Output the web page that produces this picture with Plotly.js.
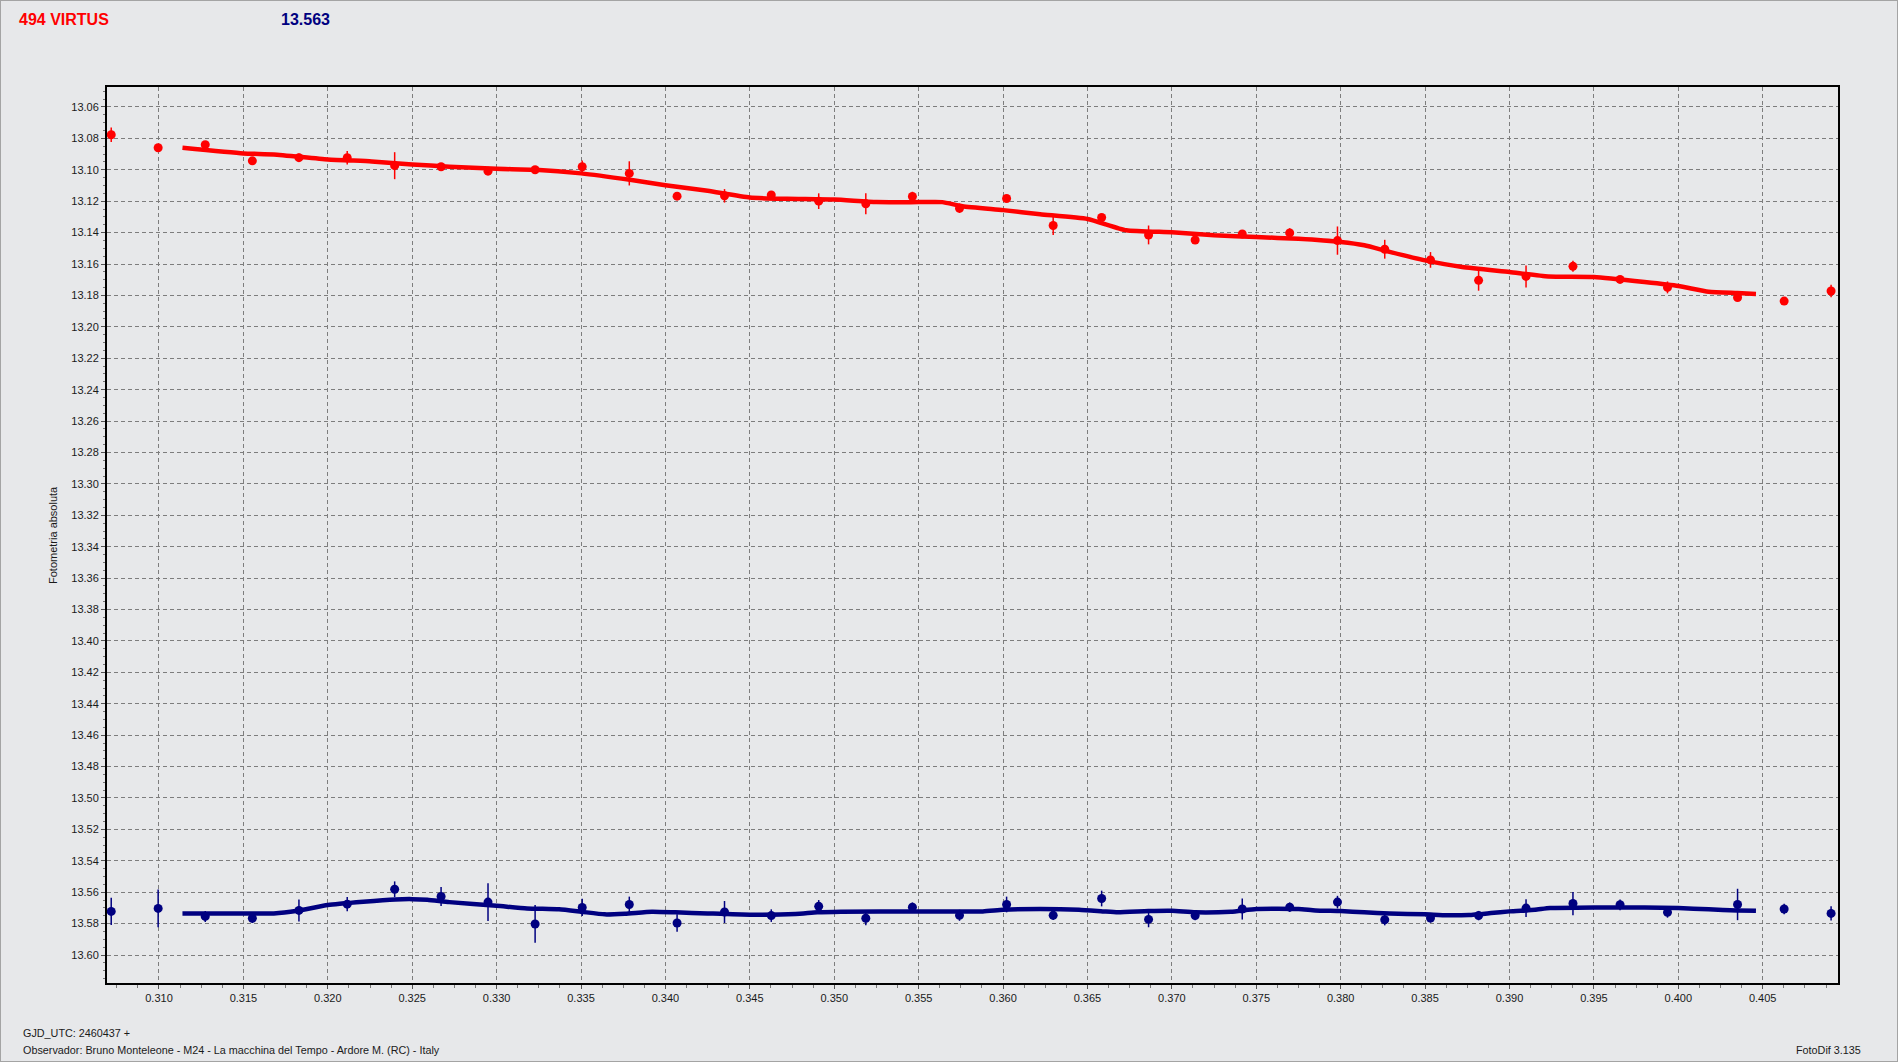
<!DOCTYPE html>
<html>
<head>
<meta charset="utf-8">
<script src="https://cdn.plot.ly/plotly-3.0.1.min.js"></script>
<style>
  html, body { margin: 0; padding: 0; background: #e7e8ea; }
  #wrap { position: relative; width: 1898px; height: 1062px; }
  #chart { width: 1898px; height: 1062px; }
  #frame { position: absolute; left: 0; top: 0; width: 1898px; height: 1062px; box-sizing: border-box; border: 1px solid #a4a4a4; pointer-events: none; }
</style>
</head>
<body>
<div id="wrap"><div id="chart"></div><div id="frame"></div></div>
<script>
// Phase (GJD_UTC - 2460437)
const phase = [0.30717, 0.30995, 0.31274, 0.31553, 0.31829, 0.32115, 0.32396, 0.32671, 0.32949, 0.33228,
  0.33507, 0.33786, 0.34069, 0.34350, 0.34627, 0.34908, 0.35187, 0.35463, 0.35742, 0.36021,
  0.36297, 0.36584, 0.36862, 0.37138, 0.37417, 0.37698, 0.37981, 0.38261, 0.38532, 0.38817,
  0.39098, 0.39376, 0.39655, 0.39936, 0.40351, 0.40627, 0.40905];

// 494 Virtus magnitudes
const virtusMag = [13.0777, 13.0860, 13.0840, 13.0943, 13.0923, 13.0923, 13.0974, 13.0981, 13.1009, 13.1000,
  13.0981, 13.1023, 13.1168, 13.1166, 13.1160, 13.1200, 13.1217, 13.1170, 13.1245, 13.1183,
  13.1355, 13.1304, 13.1415, 13.1447, 13.1409, 13.1402, 13.1451, 13.1506, 13.1574, 13.1704,
  13.1679, 13.1615, 13.1698, 13.1749, 13.1813, 13.1836, 13.1772];
const virtusErr = [0.0046, 0.0010, 0.0020, 0.0012, 0.0027, 0.0043, 0.0086, 0.0020, 0.0010, 0.0010,
  0.0040, 0.0077, 0.0012, 0.0043, 0.0015, 0.0050, 0.0067, 0.0030, 0.0030, 0.0012,
  0.0060, 0.0012, 0.0060, 0.0015, 0.0012, 0.0030, 0.0090, 0.0060, 0.0050, 0.0066,
  0.0070, 0.0035, 0.0020, 0.0038, 0.0020, 0.0010, 0.0040];

// Comparison star magnitudes
const compMag = [13.5722, 13.5703, 13.5754, 13.5766, 13.5716, 13.5676, 13.5581, 13.5627, 13.5663, 13.5802,
  13.5697, 13.5678, 13.5796, 13.5726, 13.5749, 13.5690, 13.5766, 13.5695, 13.5747, 13.5678,
  13.5747, 13.5640, 13.5773, 13.5749, 13.5707, 13.5695, 13.5663, 13.5775, 13.5764, 13.5749,
  13.5701, 13.5672, 13.5680, 13.5728, 13.5678, 13.5707, 13.5735];
const compErr = [0.0087, 0.0120, 0.0035, 0.0030, 0.0070, 0.0045, 0.0050, 0.0060, 0.0120, 0.0120,
  0.0055, 0.0050, 0.0056, 0.0070, 0.0040, 0.0040, 0.0045, 0.0030, 0.0035, 0.0050,
  0.0030, 0.0050, 0.0050, 0.0030, 0.0067, 0.0030, 0.0040, 0.0036, 0.0030, 0.0030,
  0.0057, 0.0074, 0.0034, 0.0034, 0.0100, 0.0034, 0.0045];

// Smoothed curves
const virtusFitX = [0.31139, 0.3150, 0.3168, 0.3200, 0.3226, 0.3250, 0.3272, 0.3300, 0.3323, 0.3350,
  0.3379, 0.3400, 0.3425, 0.3450, 0.3472, 0.3500, 0.3525, 0.3550, 0.3564, 0.3576,
  0.3600, 0.3622, 0.3650, 0.3673, 0.3700, 0.3725, 0.3750, 0.3775, 0.3800, 0.3814,
  0.3829, 0.3850, 0.3872, 0.3900, 0.3923, 0.3950, 0.3980, 0.4000, 0.4018, 0.4035, 0.4046];
const virtusFitY = [13.0860, 13.0896, 13.0902, 13.0934, 13.0947, 13.0966, 13.0980, 13.0994, 13.1000, 13.1023,
  13.1064, 13.1098, 13.1134, 13.1177, 13.1185, 13.1190, 13.1206, 13.1206, 13.1206, 13.1232,
  13.1257, 13.1283, 13.1313, 13.1385, 13.1398, 13.1417, 13.1428, 13.1440, 13.1460, 13.1481,
  13.1523, 13.1577, 13.1619, 13.1651, 13.1679, 13.1683, 13.1715, 13.1740, 13.1777, 13.1785, 13.1791];

const compFitX = [0.31139, 0.3150, 0.3168, 0.3182, 0.3200, 0.3221, 0.3240, 0.3250, 0.3259, 0.3272,
  0.3300, 0.3318, 0.3337, 0.3350, 0.3364, 0.3376, 0.3392, 0.3406, 0.3425, 0.3450,
  0.3477, 0.3490, 0.3504, 0.3550, 0.3588, 0.3600, 0.3622, 0.3645, 0.3659, 0.3668,
  0.3686, 0.3700, 0.3714, 0.3735, 0.3750, 0.3775, 0.3785, 0.3800, 0.3814, 0.3829,
  0.3850, 0.3863, 0.3876, 0.3889, 0.3900, 0.3915, 0.3924, 0.3950, 0.3980, 0.4000,
  0.4018, 0.4035, 0.4046];
const compFitY = [13.5735, 13.5735, 13.5735, 13.5718, 13.5682, 13.5661, 13.5646, 13.5644, 13.5648, 13.5663,
  13.5686, 13.5703, 13.5709, 13.5724, 13.5741, 13.5737, 13.5724, 13.5728, 13.5735, 13.5743,
  13.5739, 13.5728, 13.5724, 13.5722, 13.5722, 13.5712, 13.5707, 13.5712, 13.5722, 13.5728,
  13.5720, 13.5718, 13.5728, 13.5724, 13.5707, 13.5707, 13.5716, 13.5720, 13.5728, 13.5735,
  13.5741, 13.5747, 13.5745, 13.5733, 13.5722, 13.5712, 13.5701, 13.5697, 13.5697, 13.5701,
  13.5709, 13.5716, 13.5718];

const RED = '#ff0000';
const NAVY = '#000080';
const FONT = 'Liberation Sans, Arial, sans-serif';

const traces = [
  { x: virtusFitX, y: virtusFitY, mode: 'lines', line: { color: RED, width: 4.5, shape: 'spline', smoothing: 0.5 }, hoverinfo: 'skip' },
  { x: compFitX, y: compFitY, mode: 'lines', line: { color: NAVY, width: 4.5, shape: 'spline', smoothing: 0.5 }, hoverinfo: 'skip' },
  { x: phase, y: virtusMag, mode: 'markers', cliponaxis: false,
    marker: { color: RED, size: 9, symbol: 'circle' },
    error_y: { type: 'data', array: virtusErr, visible: true, color: RED, thickness: 1.5, width: 0 } },
  { x: phase, y: compMag, mode: 'markers', cliponaxis: false,
    marker: { color: NAVY, size: 9, symbol: 'circle' },
    error_y: { type: 'data', array: compErr, visible: true, color: NAVY, thickness: 1.5, width: 0 } }
];

const L = 107, R = 1838, T = 87, B = 983;
const px = v => (v - L) / (R - L);
const py = v => (B - v) / (B - T);

const layout = {
  width: 1898, height: 1062,
  margin: { l: L, r: 1898 - R, t: T, b: 1062 - B, pad: 0 },
  paper_bgcolor: '#e7e8ea',
  plot_bgcolor: '#e7e8ea',
  showlegend: false,
  font: { family: FONT, size: 11, color: '#1a1a1a' },
  xaxis: {
    range: [0.30692, 0.40946],
    tick0: 0.310, dtick: 0.005, tickformat: '.3f',
    ticks: 'outside', ticklen: 4, tickcolor: '#555',
    showgrid: true, gridcolor: '#7d7d7d', gridwidth: 1, griddash: '4px,3px',
    zeroline: false,
    showline: true, linecolor: '#000', linewidth: 2, mirror: true,
    minor: { dtick: 0.00125, ticks: 'outside', ticklen: 3, tickcolor: '#777', showgrid: false },
    tickfont: { family: FONT, size: 11, color: '#1a1a1a' }
  },
  yaxis: {
    range: [13.6178, 13.0473],
    tick0: 13.06, dtick: 0.02, tickformat: '.2f',
    ticks: 'outside', ticklen: 4, tickcolor: '#555',
    showgrid: true, gridcolor: '#7d7d7d', gridwidth: 1, griddash: '4px,3px',
    zeroline: false,
    showline: true, linecolor: '#000', linewidth: 2, mirror: true,
    minor: { dtick: 0.005, ticks: 'outside', ticklen: 2, tickcolor: '#777', showgrid: false },
    tickfont: { family: FONT, size: 11, color: '#1a1a1a' }
  },
  annotations: [
    { text: '<b>494 VIRTUS</b>', xref: 'paper', yref: 'paper', x: px(17), y: py(20), xanchor: 'left', yanchor: 'middle', showarrow: false,
      font: { family: FONT, size: 16, color: RED } },
    { text: '<b>13.563</b>', xref: 'paper', yref: 'paper', x: px(279), y: py(20), xanchor: 'left', yanchor: 'middle', showarrow: false,
      font: { family: FONT, size: 16, color: NAVY } },
    { text: 'Fotometria absoluta', xref: 'paper', yref: 'paper', x: px(53), y: py(535), xanchor: 'center', yanchor: 'middle', textangle: -90, showarrow: false,
      font: { family: FONT, size: 11, color: '#1a1a1a' } },
    { text: 'GJD_UTC: 2460437 +', xref: 'paper', yref: 'paper', x: px(21), y: py(1033), xanchor: 'left', yanchor: 'middle', showarrow: false,
      font: { family: FONT, size: 10.8, color: '#1a1a1a' } },
    { text: 'Observador: Bruno Monteleone - M24 - La macchina del Tempo - Ardore M. (RC) - Italy', xref: 'paper', yref: 'paper', x: px(21), y: py(1050), xanchor: 'left', yanchor: 'middle', showarrow: false,
      font: { family: FONT, size: 10.8, color: '#1a1a1a' } },
    { text: 'FotoDif 3.135', xref: 'paper', yref: 'paper', x: px(1863), y: py(1050), xanchor: 'right', yanchor: 'middle', showarrow: false,
      font: { family: FONT, size: 10.8, color: '#1a1a1a' } }
  ]
};

Plotly.newPlot('chart', traces, layout, { displayModeBar: false, staticPlot: true });
</script>
</body>
</html>
